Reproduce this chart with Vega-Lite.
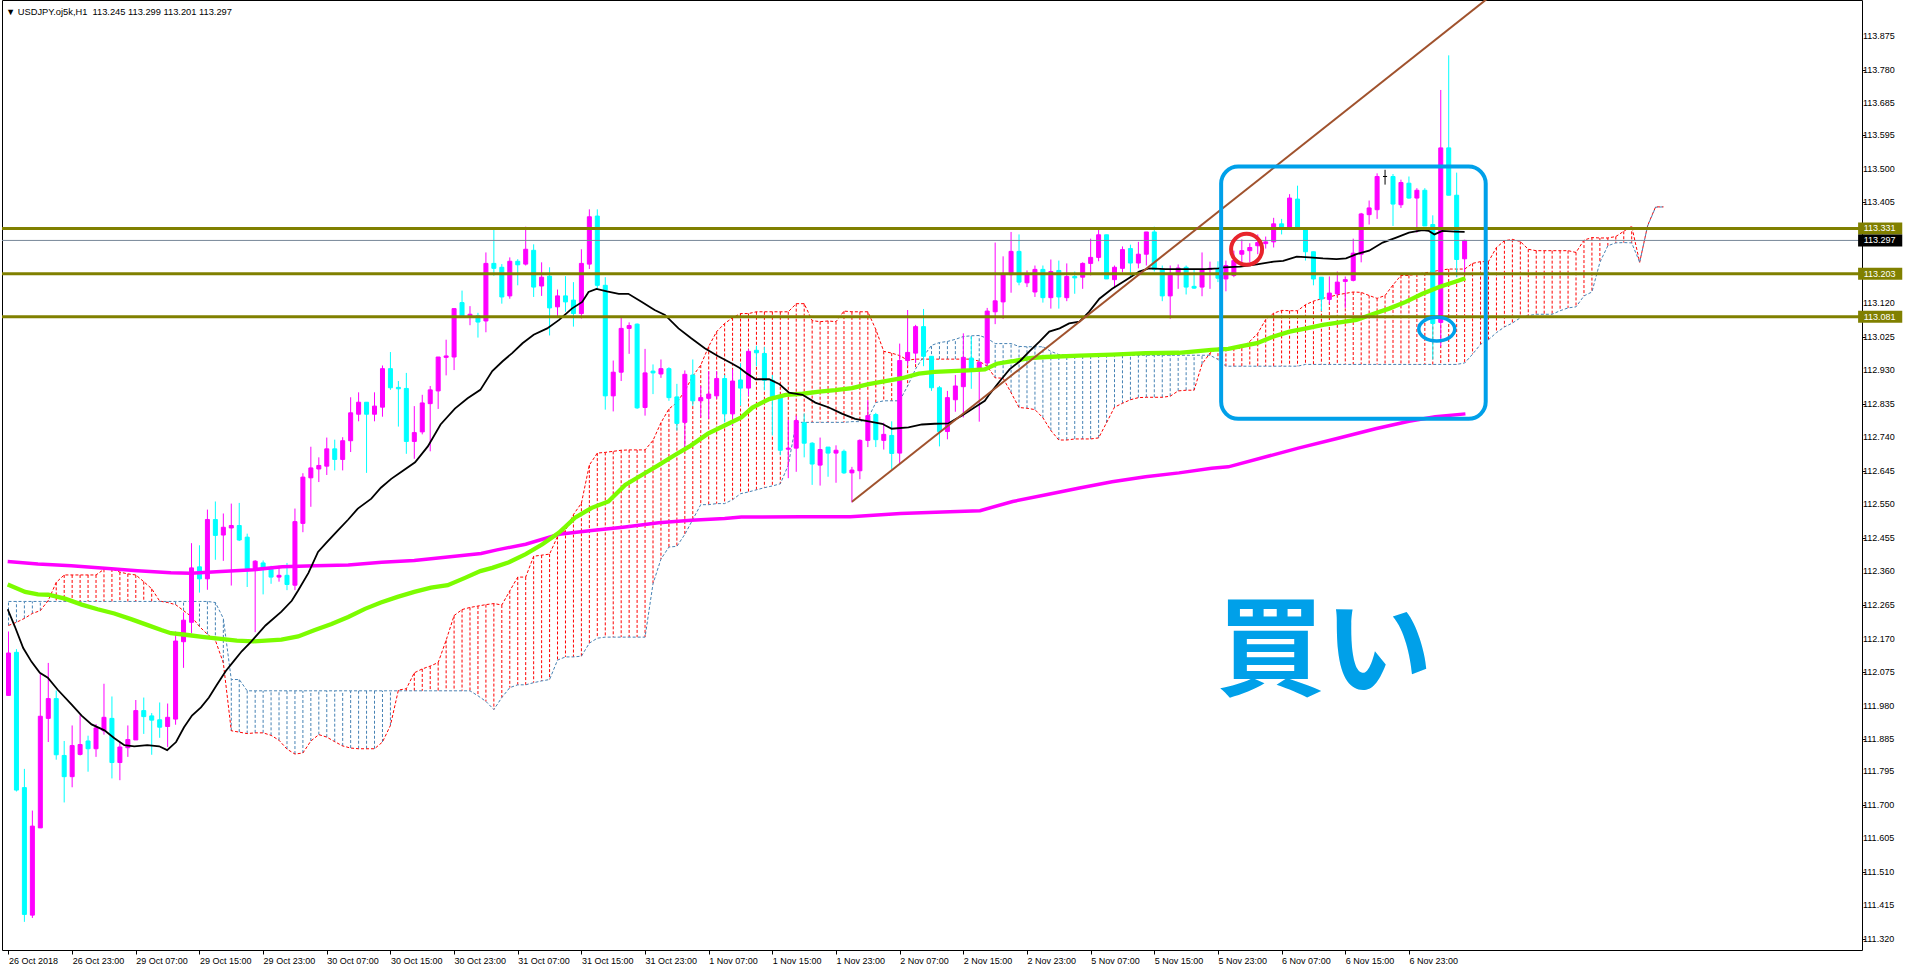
{
"$schema": "https://vega.github.io/schema/vega-lite/v6.json",
"width": 1860, "height": 950,
"autosize": {"type": "none"},
"padding": {"left": 2, "top": 0, "right": 43, "bottom": 21},
"background": "white",
"title": {"text": "▼ USDJPY.oj5k,H1\u00a0 113.245 113.299 113.201 113.297", "anchor": "start", "frame": "group", "offset": -11, "dy": 10, "baseline": "middle", "fontSize": 9.3, "fontWeight": "normal", "font": "Liberation Sans", "color": "black", "dx": 4},
"config": {"view": {"stroke": "black", "strokeWidth": 1}, "axis": {"grid": false, "domain": false, "tickColor": "black", "labelColor": "black", "labelFont": "Liberation Sans", "labelFontSize": 9, "labelFlush": false, "labelOverlap": false, "labelBound": false}},
"datasets": {
"c": [
{"i":0,"o":112.009,"h":112.190,"l":112.008,"c":112.129},
{"i":1,"o":112.131,"h":112.140,"l":111.737,"c":111.741},
{"i":2,"o":111.748,"h":111.801,"l":111.368,"c":111.389},
{"i":3,"o":111.387,"h":111.683,"l":111.379,"c":111.639},
{"i":4,"o":111.634,"h":112.070,"l":111.634,"c":111.950},
{"i":5,"o":111.944,"h":112.101,"l":111.877,"c":112.000},
{"i":6,"o":112.000,"h":112.023,"l":111.827,"c":111.841},
{"i":7,"o":111.839,"h":111.880,"l":111.706,"c":111.779},
{"i":8,"o":111.779,"h":111.924,"l":111.749,"c":111.867},
{"i":9,"o":111.842,"h":111.953,"l":111.839,"c":111.870},
{"i":10,"o":111.880,"h":111.895,"l":111.793,"c":111.858},
{"i":11,"o":111.858,"h":111.928,"l":111.835,"c":111.917},
{"i":12,"o":111.909,"h":112.042,"l":111.898,"c":111.947},
{"i":13,"o":111.944,"h":112.006,"l":111.774,"c":111.819},
{"i":14,"o":111.819,"h":111.877,"l":111.769,"c":111.863},
{"i":15,"o":111.861,"h":111.924,"l":111.835,"c":111.884},
{"i":16,"o":111.883,"h":111.996,"l":111.883,"c":111.966},
{"i":17,"o":111.966,"h":112.003,"l":111.900,"c":111.949},
{"i":18,"o":111.951,"h":111.959,"l":111.841,"c":111.939},
{"i":19,"o":111.940,"h":111.989,"l":111.889,"c":111.919},
{"i":20,"o":111.921,"h":111.986,"l":111.863,"c":111.947},
{"i":21,"o":111.942,"h":112.190,"l":111.926,"c":112.163},
{"i":22,"o":112.161,"h":112.244,"l":112.087,"c":112.222},
{"i":23,"o":112.216,"h":112.440,"l":112.185,"c":112.370},
{"i":24,"o":112.373,"h":112.434,"l":112.300,"c":112.339},
{"i":25,"o":112.339,"h":112.535,"l":112.308,"c":112.507},
{"i":26,"o":112.507,"h":112.558,"l":112.393,"c":112.462},
{"i":27,"o":112.463,"h":112.524,"l":112.390,"c":112.485},
{"i":28,"o":112.483,"h":112.552,"l":112.320,"c":112.490},
{"i":29,"o":112.490,"h":112.554,"l":112.446,"c":112.449},
{"i":30,"o":112.457,"h":112.467,"l":112.316,"c":112.362},
{"i":31,"o":112.367,"h":112.392,"l":112.188,"c":112.389},
{"i":32,"o":112.384,"h":112.391,"l":112.295,"c":112.366},
{"i":33,"o":112.366,"h":112.376,"l":112.325,"c":112.344},
{"i":34,"o":112.344,"h":112.376,"l":112.331,"c":112.349},
{"i":35,"o":112.349,"h":112.384,"l":112.307,"c":112.323},
{"i":36,"o":112.321,"h":112.538,"l":112.307,"c":112.501},
{"i":37,"o":112.496,"h":112.638,"l":112.471,"c":112.627},
{"i":38,"o":112.625,"h":112.713,"l":112.543,"c":112.653},
{"i":39,"o":112.650,"h":112.683,"l":112.613,"c":112.660},
{"i":40,"o":112.658,"h":112.739,"l":112.633,"c":112.707},
{"i":41,"o":112.707,"h":112.733,"l":112.646,"c":112.677},
{"i":42,"o":112.677,"h":112.740,"l":112.646,"c":112.730},
{"i":43,"o":112.730,"h":112.853,"l":112.698,"c":112.809},
{"i":44,"o":112.805,"h":112.867,"l":112.785,"c":112.839},
{"i":45,"o":112.839,"h":112.839,"l":112.639,"c":112.805},
{"i":46,"o":112.805,"h":112.867,"l":112.785,"c":112.828},
{"i":47,"o":112.825,"h":112.943,"l":112.798,"c":112.934},
{"i":48,"o":112.934,"h":112.981,"l":112.874,"c":112.880},
{"i":49,"o":112.881,"h":112.899,"l":112.770,"c":112.877},
{"i":50,"o":112.878,"h":112.922,"l":112.693,"c":112.728},
{"i":51,"o":112.728,"h":112.828,"l":112.679,"c":112.753},
{"i":52,"o":112.755,"h":112.860,"l":112.748,"c":112.837},
{"i":53,"o":112.835,"h":112.885,"l":112.700,"c":112.874},
{"i":54,"o":112.871,"h":112.967,"l":112.820,"c":112.967},
{"i":55,"o":112.966,"h":113.016,"l":112.915,"c":112.970},
{"i":56,"o":112.967,"h":113.104,"l":112.930,"c":113.104},
{"i":57,"o":113.121,"h":113.155,"l":113.081,"c":113.081},
{"i":58,"o":113.079,"h":113.111,"l":113.057,"c":113.088},
{"i":59,"o":113.084,"h":113.092,"l":113.022,"c":113.066},
{"i":60,"o":113.069,"h":113.263,"l":113.037,"c":113.232},
{"i":61,"o":113.232,"h":113.330,"l":113.197,"c":113.218},
{"i":62,"o":113.221,"h":113.230,"l":113.118,"c":113.137},
{"i":63,"o":113.140,"h":113.249,"l":113.132,"c":113.238},
{"i":64,"o":113.238,"h":113.244,"l":113.170,"c":113.228},
{"i":65,"o":113.230,"h":113.336,"l":113.226,"c":113.272},
{"i":66,"o":113.269,"h":113.286,"l":113.137,"c":113.165},
{"i":67,"o":113.168,"h":113.235,"l":113.140,"c":113.193},
{"i":68,"o":113.196,"h":113.221,"l":113.028,"c":113.106},
{"i":69,"o":113.109,"h":113.158,"l":113.081,"c":113.140},
{"i":70,"o":113.140,"h":113.196,"l":113.095,"c":113.123},
{"i":71,"o":113.128,"h":113.179,"l":113.053,"c":113.090},
{"i":72,"o":113.090,"h":113.272,"l":113.076,"c":113.232},
{"i":73,"o":113.230,"h":113.385,"l":113.216,"c":113.364},
{"i":74,"o":113.366,"h":113.385,"l":113.159,"c":113.170},
{"i":75,"o":113.170,"h":113.193,"l":112.818,"c":112.857},
{"i":76,"o":112.857,"h":112.957,"l":112.813,"c":112.924},
{"i":77,"o":112.924,"h":113.078,"l":112.899,"c":113.048},
{"i":78,"o":113.048,"h":113.065,"l":112.976,"c":113.056},
{"i":79,"o":113.060,"h":113.062,"l":112.820,"c":112.823},
{"i":80,"o":112.824,"h":112.990,"l":112.801,"c":112.922},
{"i":81,"o":112.927,"h":112.946,"l":112.862,"c":112.922},
{"i":82,"o":112.919,"h":112.960,"l":112.908,"c":112.934},
{"i":83,"o":112.934,"h":112.938,"l":112.843,"c":112.852},
{"i":84,"o":112.854,"h":112.891,"l":112.759,"c":112.779},
{"i":85,"o":112.782,"h":112.929,"l":112.712,"c":112.918},
{"i":86,"o":112.916,"h":112.960,"l":112.829,"c":112.843},
{"i":87,"o":112.843,"h":112.885,"l":112.796,"c":112.852},
{"i":88,"o":112.850,"h":112.927,"l":112.792,"c":112.862},
{"i":89,"o":112.857,"h":112.927,"l":112.848,"c":112.906},
{"i":90,"o":112.906,"h":112.916,"l":112.782,"c":112.806},
{"i":91,"o":112.806,"h":112.932,"l":112.773,"c":112.899},
{"i":92,"o":112.902,"h":112.949,"l":112.829,"c":112.879},
{"i":93,"o":112.879,"h":112.989,"l":112.857,"c":112.983},
{"i":94,"o":112.986,"h":112.999,"l":112.941,"c":112.979},
{"i":95,"o":112.977,"h":112.995,"l":112.873,"c":112.901},
{"i":96,"o":112.901,"h":112.916,"l":112.745,"c":112.850},
{"i":97,"o":112.852,"h":112.860,"l":112.689,"c":112.703},
{"i":98,"o":112.706,"h":112.789,"l":112.624,"c":112.709},
{"i":99,"o":112.709,"h":112.801,"l":112.642,"c":112.787},
{"i":100,"o":112.781,"h":112.807,"l":112.683,"c":112.723},
{"i":101,"o":112.723,"h":112.726,"l":112.605,"c":112.664},
{"i":102,"o":112.661,"h":112.739,"l":112.603,"c":112.705},
{"i":103,"o":112.712,"h":112.712,"l":112.628,"c":112.695},
{"i":104,"o":112.695,"h":112.717,"l":112.611,"c":112.703},
{"i":105,"o":112.700,"h":112.705,"l":112.636,"c":112.639},
{"i":106,"o":112.639,"h":112.656,"l":112.555,"c":112.647},
{"i":107,"o":112.645,"h":112.734,"l":112.621,"c":112.731},
{"i":108,"o":112.731,"h":112.845,"l":112.712,"c":112.801},
{"i":109,"o":112.804,"h":112.809,"l":112.712,"c":112.733},
{"i":110,"o":112.731,"h":112.781,"l":112.705,"c":112.748},
{"i":111,"o":112.745,"h":112.785,"l":112.650,"c":112.694},
{"i":112,"o":112.695,"h":113.005,"l":112.667,"c":112.957},
{"i":113,"o":112.957,"h":113.100,"l":112.941,"c":112.980},
{"i":114,"o":112.978,"h":113.058,"l":112.950,"c":113.053},
{"i":115,"o":113.053,"h":113.103,"l":112.941,"c":112.969},
{"i":116,"o":112.969,"h":112.969,"l":112.871,"c":112.880},
{"i":117,"o":112.880,"h":112.885,"l":112.714,"c":112.756},
{"i":118,"o":112.756,"h":112.871,"l":112.734,"c":112.852},
{"i":119,"o":112.846,"h":112.916,"l":112.812,"c":112.885},
{"i":120,"o":112.883,"h":113.034,"l":112.796,"c":112.966},
{"i":121,"o":112.964,"h":113.025,"l":112.877,"c":112.935},
{"i":122,"o":112.930,"h":112.955,"l":112.784,"c":112.952},
{"i":123,"o":112.950,"h":113.106,"l":112.936,"c":113.097},
{"i":124,"o":113.095,"h":113.291,"l":113.060,"c":113.126},
{"i":125,"o":113.123,"h":113.252,"l":113.075,"c":113.200},
{"i":126,"o":113.200,"h":113.321,"l":113.149,"c":113.266},
{"i":127,"o":113.266,"h":113.314,"l":113.170,"c":113.179},
{"i":128,"o":113.177,"h":113.212,"l":113.165,"c":113.200},
{"i":129,"o":113.151,"h":113.226,"l":113.137,"c":113.215},
{"i":130,"o":113.215,"h":113.226,"l":113.121,"c":113.135},
{"i":131,"o":113.135,"h":113.243,"l":113.104,"c":113.209},
{"i":132,"o":113.212,"h":113.240,"l":113.104,"c":113.137},
{"i":133,"o":113.135,"h":113.232,"l":113.125,"c":113.195},
{"i":134,"o":113.195,"h":113.209,"l":113.146,"c":113.191},
{"i":135,"o":113.193,"h":113.235,"l":113.160,"c":113.232},
{"i":136,"o":113.232,"h":113.302,"l":113.198,"c":113.249},
{"i":137,"o":113.249,"h":113.335,"l":113.238,"c":113.313},
{"i":138,"o":113.313,"h":113.313,"l":113.188,"c":113.188},
{"i":139,"o":113.186,"h":113.226,"l":113.162,"c":113.221},
{"i":140,"o":113.218,"h":113.280,"l":113.207,"c":113.271},
{"i":141,"o":113.274,"h":113.285,"l":113.195,"c":113.233},
{"i":142,"o":113.233,"h":113.293,"l":113.218,"c":113.258},
{"i":143,"o":113.258,"h":113.321,"l":113.226,"c":113.321},
{"i":144,"o":113.321,"h":113.336,"l":113.209,"c":113.215},
{"i":145,"o":113.215,"h":113.226,"l":113.125,"c":113.140},
{"i":146,"o":113.140,"h":113.226,"l":113.075,"c":113.204},
{"i":147,"o":113.200,"h":113.229,"l":113.160,"c":113.219},
{"i":148,"o":113.221,"h":113.226,"l":113.144,"c":113.165},
{"i":149,"o":113.167,"h":113.215,"l":113.160,"c":113.162},
{"i":150,"o":113.165,"h":113.263,"l":113.139,"c":113.215},
{"i":151,"o":113.215,"h":113.237,"l":113.160,"c":113.218},
{"i":152,"o":113.218,"h":113.238,"l":113.179,"c":113.190},
{"i":153,"o":113.188,"h":113.240,"l":113.153,"c":113.226},
{"i":154,"o":113.198,"h":113.268,"l":113.193,"c":113.240},
{"i":155,"o":113.258,"h":113.300,"l":113.235,"c":113.268},
{"i":156,"o":113.268,"h":113.289,"l":113.235,"c":113.277},
{"i":157,"o":113.282,"h":113.314,"l":113.258,"c":113.291},
{"i":158,"o":113.288,"h":113.308,"l":113.274,"c":113.293},
{"i":159,"o":113.293,"h":113.361,"l":113.277,"c":113.344},
{"i":160,"o":113.344,"h":113.358,"l":113.314,"c":113.331},
{"i":161,"o":113.330,"h":113.428,"l":113.328,"c":113.417},
{"i":162,"o":113.414,"h":113.452,"l":113.328,"c":113.331},
{"i":163,"o":113.331,"h":113.331,"l":113.240,"c":113.265},
{"i":164,"o":113.265,"h":113.265,"l":113.170,"c":113.188},
{"i":165,"o":113.193,"h":113.193,"l":113.097,"c":113.131},
{"i":166,"o":113.130,"h":113.195,"l":113.118,"c":113.148},
{"i":167,"o":113.146,"h":113.209,"l":113.140,"c":113.179},
{"i":168,"o":113.181,"h":113.195,"l":113.106,"c":113.186},
{"i":169,"o":113.184,"h":113.302,"l":113.181,"c":113.261},
{"i":170,"o":113.258,"h":113.375,"l":113.235,"c":113.372},
{"i":171,"o":113.370,"h":113.410,"l":113.342,"c":113.389},
{"i":172,"o":113.384,"h":113.487,"l":113.358,"c":113.478},
{"i":173,"o":113.478,"h":113.497,"l":113.455,"c":113.478},
{"i":174,"o":113.478,"h":113.485,"l":113.338,"c":113.400},
{"i":175,"o":113.398,"h":113.469,"l":113.389,"c":113.461},
{"i":176,"o":113.459,"h":113.478,"l":113.415,"c":113.417},
{"i":177,"o":113.417,"h":113.445,"l":113.319,"c":113.439},
{"i":178,"o":113.439,"h":113.445,"l":113.338,"c":113.338},
{"i":179,"o":113.342,"h":113.368,"l":112.960,"c":113.062},
{"i":180,"o":113.065,"h":113.723,"l":112.997,"c":113.559},
{"i":181,"o":113.559,"h":113.821,"l":113.425,"c":113.425},
{"i":182,"o":113.425,"h":113.489,"l":113.193,"c":113.243},
{"i":183,"o":113.245,"h":113.299,"l":113.201,"c":113.297}
],
"cl": [
{"i":0,"a":112.207,"b":112.275},{"i":1,"a":112.216,"b":112.275},{"i":2,"a":112.227,"b":112.275},{"i":3,"a":112.241,"b":112.275},{"i":4,"a":112.249,"b":112.275},{"i":5,"a":112.278,"b":112.275},{"i":6,"a":112.329,"b":112.275},{"i":7,"a":112.350,"b":112.275},{"i":8,"a":112.350,"b":112.275},{"i":9,"a":112.350,"b":112.275},
{"i":10,"a":112.350,"b":112.275},{"i":11,"a":112.350,"b":112.275},{"i":12,"a":112.366,"b":112.275},{"i":13,"a":112.367,"b":112.275},{"i":14,"a":112.358,"b":112.275},{"i":15,"a":112.353,"b":112.275},{"i":16,"a":112.350,"b":112.275},{"i":17,"a":112.331,"b":112.275},{"i":18,"a":112.311,"b":112.275},{"i":19,"a":112.276,"b":112.275},
{"i":20,"a":112.272,"b":112.275},{"i":21,"a":112.266,"b":112.275},{"i":22,"a":112.249,"b":112.275},{"i":23,"a":112.232,"b":112.275},{"i":24,"a":112.204,"b":112.275},{"i":25,"a":112.182,"b":112.275},{"i":26,"a":112.165,"b":112.272},{"i":27,"a":112.101,"b":112.227},{"i":28,"a":111.909,"b":112.054},{"i":29,"a":111.905,"b":112.054},
{"i":30,"a":111.901,"b":112.022},{"i":31,"a":111.903,"b":112.022},{"i":32,"a":111.903,"b":112.022},{"i":33,"a":111.896,"b":112.022},{"i":34,"a":111.882,"b":112.022},{"i":35,"a":111.857,"b":112.022},{"i":36,"a":111.843,"b":112.022},{"i":37,"a":111.846,"b":112.022},{"i":38,"a":111.880,"b":112.022},{"i":39,"a":111.898,"b":112.022},
{"i":40,"a":111.891,"b":112.022},{"i":41,"a":111.878,"b":112.022},{"i":42,"a":111.866,"b":112.022},{"i":43,"a":111.860,"b":112.022},{"i":44,"a":111.858,"b":112.022},{"i":45,"a":111.858,"b":112.022},{"i":46,"a":111.858,"b":112.022},{"i":47,"a":111.877,"b":112.022},{"i":48,"a":111.924,"b":112.022},{"i":49,"a":112.024,"b":112.022},
{"i":50,"a":112.028,"b":112.022},{"i":51,"a":112.073,"b":112.022},{"i":52,"a":112.084,"b":112.022},{"i":53,"a":112.092,"b":112.022},{"i":54,"a":112.102,"b":112.022},{"i":55,"a":112.165,"b":112.022},{"i":56,"a":112.235,"b":112.022},{"i":57,"a":112.252,"b":112.022},{"i":58,"a":112.258,"b":112.022},{"i":59,"a":112.262,"b":112.008},
{"i":60,"a":112.266,"b":111.992},{"i":61,"a":112.269,"b":111.969},{"i":62,"a":112.265,"b":112.003},{"i":63,"a":112.305,"b":112.031},{"i":64,"a":112.344,"b":112.039},{"i":65,"a":112.344,"b":112.039},{"i":66,"a":112.403,"b":112.045},{"i":67,"a":112.406,"b":112.050},{"i":68,"a":112.409,"b":112.054},{"i":69,"a":112.459,"b":112.109},
{"i":70,"a":112.476,"b":112.118},{"i":71,"a":112.521,"b":112.118},{"i":72,"a":112.553,"b":112.120},{"i":73,"a":112.661,"b":112.157},{"i":74,"a":112.695,"b":112.171},{"i":75,"a":112.697,"b":112.174},{"i":76,"a":112.700,"b":112.174},{"i":77,"a":112.703,"b":112.174},{"i":78,"a":112.704,"b":112.174},{"i":79,"a":112.704,"b":112.174},
{"i":80,"a":112.704,"b":112.174},{"i":81,"a":112.731,"b":112.325},{"i":82,"a":112.781,"b":112.395},{"i":83,"a":112.820,"b":112.429},{"i":84,"a":112.838,"b":112.431},{"i":85,"a":112.871,"b":112.465},{"i":86,"a":112.913,"b":112.507},{"i":87,"a":112.944,"b":112.549},{"i":88,"a":112.997,"b":112.549},{"i":89,"a":113.039,"b":112.552},
{"i":90,"a":113.062,"b":112.552},{"i":91,"a":113.078,"b":112.563},{"i":92,"a":113.090,"b":112.580},{"i":93,"a":113.090,"b":112.585},{"i":94,"a":113.095,"b":112.591},{"i":95,"a":113.095,"b":112.597},{"i":96,"a":113.095,"b":112.602},{"i":97,"a":113.095,"b":112.608},{"i":98,"a":113.095,"b":112.661},{"i":99,"a":113.118,"b":112.782},
{"i":100,"a":113.118,"b":112.782},{"i":101,"a":113.070,"b":112.782},{"i":102,"a":113.067,"b":112.782},{"i":103,"a":113.069,"b":112.782},{"i":104,"a":113.067,"b":112.782},{"i":105,"a":113.097,"b":112.782},{"i":106,"a":113.095,"b":112.784},{"i":107,"a":113.095,"b":112.784},{"i":108,"a":113.095,"b":112.792},{"i":109,"a":113.045,"b":112.838},
{"i":110,"a":112.983,"b":112.843},{"i":111,"a":112.978,"b":112.843},{"i":112,"a":112.971,"b":112.843},{"i":113,"a":112.958,"b":112.885},{"i":114,"a":112.961,"b":112.933},{"i":115,"a":112.961,"b":112.969},{"i":116,"a":112.961,"b":113.000},{"i":117,"a":112.961,"b":113.008},{"i":118,"a":112.961,"b":113.011},{"i":119,"a":112.961,"b":113.017},
{"i":120,"a":112.961,"b":113.025},{"i":121,"a":112.961,"b":113.027},{"i":122,"a":112.955,"b":113.028},{"i":123,"a":112.941,"b":113.020},{"i":124,"a":112.908,"b":113.005},{"i":125,"a":112.907,"b":113.005},{"i":126,"a":112.866,"b":113.005},{"i":127,"a":112.824,"b":112.997},{"i":128,"a":112.822,"b":112.996},{"i":129,"a":112.818,"b":112.996},
{"i":130,"a":112.795,"b":112.996},{"i":131,"a":112.759,"b":112.983},{"i":132,"a":112.732,"b":112.974},{"i":133,"a":112.732,"b":112.972},{"i":134,"a":112.735,"b":112.972},{"i":135,"a":112.735,"b":112.972},{"i":136,"a":112.735,"b":112.972},{"i":137,"a":112.738,"b":112.972},{"i":138,"a":112.781,"b":112.972},{"i":139,"a":112.825,"b":112.972},
{"i":140,"a":112.836,"b":112.972},{"i":141,"a":112.846,"b":112.972},{"i":142,"a":112.852,"b":112.972},{"i":143,"a":112.853,"b":112.972},{"i":144,"a":112.853,"b":112.972},{"i":145,"a":112.853,"b":112.972},{"i":146,"a":112.856,"b":112.972},{"i":147,"a":112.871,"b":112.972},{"i":148,"a":112.873,"b":112.972},{"i":149,"a":112.873,"b":112.972},
{"i":150,"a":112.947,"b":112.972},{"i":151,"a":112.978,"b":112.972},{"i":152,"a":112.992,"b":112.960},{"i":153,"a":112.991,"b":112.941},{"i":154,"a":112.992,"b":112.941},{"i":155,"a":112.992,"b":112.941},{"i":156,"a":113.011,"b":112.941},{"i":157,"a":113.034,"b":112.941},{"i":158,"a":113.073,"b":112.941},{"i":159,"a":113.091,"b":112.941},
{"i":160,"a":113.099,"b":112.941},{"i":161,"a":113.098,"b":112.941},{"i":162,"a":113.098,"b":112.941},{"i":163,"a":113.115,"b":112.946},{"i":164,"a":113.125,"b":112.946},{"i":165,"a":113.132,"b":112.946},{"i":166,"a":113.137,"b":112.946},{"i":167,"a":113.143,"b":112.946},{"i":168,"a":113.147,"b":112.946},{"i":169,"a":113.151,"b":112.946},
{"i":170,"a":113.150,"b":112.946},{"i":171,"a":113.141,"b":112.946},{"i":172,"a":113.133,"b":112.946},{"i":173,"a":113.141,"b":112.946},{"i":174,"a":113.171,"b":112.946},{"i":175,"a":113.198,"b":112.946},{"i":176,"a":113.198,"b":112.946},{"i":177,"a":113.202,"b":112.946},{"i":178,"a":113.205,"b":112.946},{"i":179,"a":113.209,"b":112.946},
{"i":180,"a":113.213,"b":112.946},{"i":181,"a":113.216,"b":112.946},{"i":182,"a":113.216,"b":112.946},{"i":183,"a":113.216,"b":112.950},{"i":184,"a":113.232,"b":112.975},{"i":185,"a":113.237,"b":113.003},{"i":186,"a":113.237,"b":113.016},{"i":187,"a":113.277,"b":113.036},{"i":188,"a":113.296,"b":113.052},{"i":189,"a":113.300,"b":113.063},
{"i":190,"a":113.294,"b":113.078},{"i":191,"a":113.272,"b":113.084},{"i":192,"a":113.268,"b":113.088},{"i":193,"a":113.268,"b":113.088},{"i":194,"a":113.268,"b":113.088},{"i":195,"a":113.268,"b":113.098},{"i":196,"a":113.268,"b":113.106},{"i":197,"a":113.263,"b":113.109},{"i":198,"a":113.298,"b":113.140},{"i":199,"a":113.305,"b":113.151},
{"i":200,"a":113.304,"b":113.235},{"i":201,"a":113.304,"b":113.282},{"i":202,"a":113.308,"b":113.290},{"i":203,"a":113.323,"b":113.291},{"i":204,"a":113.337,"b":113.290},{"i":205,"a":113.235,"b":113.235},{"i":206,"a":113.339,"b":113.338},{"i":207,"a":113.392,"b":113.391},{"i":208,"a":113.392,"b":113.392}
],
"k": [
{"i":-0.1,"v":112.253},{"i":0.8,"v":112.204},{"i":1.85,"v":112.143},{"i":2.9,"v":112.104},{"i":3.94,"v":112.073},{"i":4.94,"v":112.059},{"i":6.19,"v":112.025},{"i":7.94,"v":111.983},{"i":9.19,"v":111.952},{"i":10.44,"v":111.927},{"i":12.06,"v":111.910},{"i":13.31,"v":111.888},{"i":14.56,"v":111.868},{"i":15.81,"v":111.865},{"i":17.44,"v":111.868},{"i":18.94,"v":111.865},{"i":19.94,"v":111.854},{"i":21.06,"v":111.877},{"i":22.06,"v":111.919},{"i":23.06,"v":111.952},{"i":24.19,"v":111.975},{"i":25.19,"v":112.003},{"i":26.19,"v":112.039},{"i":27.31,"v":112.078},{"i":28.31,"v":112.106},{"i":29.31,"v":112.134},{"i":30.44,"v":112.160},{"i":32.3,"v":112.207},{"i":34.3,"v":112.246},{"i":35.6,"v":112.277},{"i":36.4,"v":112.306},{"i":37.7,"v":112.356},{"i":38.9,"v":112.415},{"i":39.9,"v":112.440},{"i":41.4,"v":112.476},{"i":42.7,"v":112.507},{"i":43.9,"v":112.538},{"i":45.6,"v":112.566},{"i":46.8,"v":112.597},{"i":48.1,"v":112.622},{"i":49.3,"v":112.641},{"i":51.1,"v":112.669},{"i":52.7,"v":112.714},{"i":54.3,"v":112.776},{"i":56.1,"v":112.821},{"i":57.7,"v":112.850},{"i":59.3,"v":112.874},{"i":60.8,"v":112.927},{"i":62.1,"v":112.955},{"i":63.3,"v":112.978},{"i":64.6,"v":113.006},{"i":66.0,"v":113.030},{"i":67.7,"v":113.048},{"i":69.2,"v":113.072},{"i":70.8,"v":113.104},{"i":72.1,"v":113.123},{"i":72.9,"v":113.151},{"i":73.9,"v":113.160},{"i":75.2,"v":113.153},{"i":76.7,"v":113.146},{"i":77.9,"v":113.146},{"i":79.6,"v":113.123},{"i":81.2,"v":113.100},{"i":82.5,"v":113.086},{"i":84.2,"v":113.048},{"i":85.8,"v":113.020},{"i":87.5,"v":112.992},{"i":89.2,"v":112.969},{"i":90.8,"v":112.950},{"i":91.9,"v":112.936},{"i":92.7,"v":112.922},{"i":93.9,"v":112.904},{"i":95.6,"v":112.904},{"i":96.9,"v":112.890},{"i":98.1,"v":112.866},{"i":99.8,"v":112.860},{"i":101.4,"v":112.838},{"i":103.1,"v":112.824},{"i":104.8,"v":112.806},{"i":106.4,"v":112.792},{"i":108.1,"v":112.785},{"i":109.8,"v":112.778},{"i":111.0,"v":112.764},{"i":113.1,"v":112.768},{"i":114.8,"v":112.776},{"i":116.4,"v":112.778},{"i":118.1,"v":112.779},{"i":119.8,"v":112.801},{"i":121.4,"v":112.824},{"i":122.7,"v":112.843},{"i":123.3,"v":112.862},{"i":124.6,"v":112.899},{"i":125.8,"v":112.932},{"i":127.1,"v":112.955},{"i":128.3,"v":112.983},{"i":129.6,"v":113.011},{"i":130.8,"v":113.039},{"i":132.1,"v":113.048},{"i":133.3,"v":113.062},{"i":134.6,"v":113.067},{"i":135.8,"v":113.095},{"i":137.1,"v":113.132},{"i":138.7,"v":113.160},{"i":140.4,"v":113.184},{"i":142.1,"v":113.209},{"i":143.3,"v":113.218},{"i":145.4,"v":113.216},{"i":147.9,"v":113.216},{"i":150.4,"v":113.216},{"i":152.1,"v":113.218},{"i":152.7,"v":113.221},{"i":154.8,"v":113.223},{"i":156.9,"v":113.229},{"i":159.0,"v":113.237},{"i":160.2,"v":113.239},{"i":161.9,"v":113.251},{"i":163.5,"v":113.249},{"i":165.2,"v":113.246},{"i":166.9,"v":113.244},{"i":168.1,"v":113.246},{"i":169.4,"v":113.258},{"i":171.0,"v":113.268},{"i":172.7,"v":113.291},{"i":174.4,"v":113.305},{"i":176.0,"v":113.319},{"i":177.7,"v":113.326},{"i":178.5,"v":113.324},{"i":179.2,"v":113.314},{"i":180.2,"v":113.324},{"i":181.8,"v":113.322},{"i":183.0,"v":113.321}
],
"g": [
{"i":-0.1,"v":112.323},{"i":2.1,"v":112.302},{"i":3.7,"v":112.295},{"i":5.0,"v":112.294},{"i":7.1,"v":112.283},{"i":9.2,"v":112.266},{"i":11.2,"v":112.253},{"i":13.3,"v":112.241},{"i":15.4,"v":112.225},{"i":17.5,"v":112.208},{"i":19.2,"v":112.194},{"i":20.4,"v":112.185},{"i":22.5,"v":112.180},{"i":24.6,"v":112.174},{"i":26.7,"v":112.169},{"i":28.7,"v":112.164},{"i":30.8,"v":112.162},{"i":34.3,"v":112.167},{"i":36.4,"v":112.176},{"i":38.5,"v":112.194},{"i":40.6,"v":112.211},{"i":42.7,"v":112.231},{"i":44.8,"v":112.254},{"i":46.8,"v":112.272},{"i":48.9,"v":112.288},{"i":51.0,"v":112.302},{"i":53.1,"v":112.314},{"i":55.2,"v":112.321},{"i":57.3,"v":112.341},{"i":59.3,"v":112.361},{"i":60.8,"v":112.370},{"i":62.9,"v":112.386},{"i":65.0,"v":112.409},{"i":67.1,"v":112.437},{"i":69.2,"v":112.470},{"i":71.2,"v":112.512},{"i":73.3,"v":112.540},{"i":75.4,"v":112.558},{"i":77.5,"v":112.605},{"i":79.6,"v":112.633},{"i":81.7,"v":112.661},{"i":83.7,"v":112.689},{"i":85.8,"v":112.717},{"i":87.9,"v":112.750},{"i":90.0,"v":112.773},{"i":92.1,"v":112.796},{"i":93.5,"v":112.824},{"i":95.6,"v":112.848},{"i":97.7,"v":112.860},{"i":99.8,"v":112.863},{"i":101.9,"v":112.869},{"i":103.9,"v":112.873},{"i":106.0,"v":112.879},{"i":108.1,"v":112.890},{"i":110.2,"v":112.899},{"i":112.3,"v":112.907},{"i":114.4,"v":112.920},{"i":116.4,"v":112.925},{"i":118.5,"v":112.927},{"i":120.6,"v":112.929},{"i":122.7,"v":112.932},{"i":124.2,"v":112.948},{"i":126.2,"v":112.955},{"i":128.3,"v":112.964},{"i":130.4,"v":112.967},{"i":134.6,"v":112.971},{"i":138.7,"v":112.974},{"i":142.9,"v":112.978},{"i":147.1,"v":112.979},{"i":151.2,"v":112.987},{"i":153.3,"v":112.990},{"i":154.8,"v":112.997},{"i":156.9,"v":113.006},{"i":159.0,"v":113.025},{"i":161.0,"v":113.039},{"i":163.1,"v":113.048},{"i":165.2,"v":113.058},{"i":167.3,"v":113.065},{"i":169.4,"v":113.072},{"i":171.4,"v":113.088},{"i":173.5,"v":113.104},{"i":175.6,"v":113.123},{"i":177.7,"v":113.146},{"i":179.8,"v":113.165},{"i":181.9,"v":113.181},{"i":183.1,"v":113.190}
],
"m": [
{"i":-0.1,"v":112.388},{"i":3.7,"v":112.381},{"i":7.9,"v":112.376},{"i":12.1,"v":112.369},{"i":16.2,"v":112.362},{"i":20.4,"v":112.356},{"i":22.9,"v":112.355},{"i":26.7,"v":112.360},{"i":30.8,"v":112.365},{"i":34.4,"v":112.373},{"i":38.5,"v":112.376},{"i":42.7,"v":112.378},{"i":46.9,"v":112.386},{"i":51.0,"v":112.391},{"i":55.2,"v":112.401},{"i":59.4,"v":112.411},{"i":61.4,"v":112.421},{"i":65.0,"v":112.437},{"i":69.2,"v":112.465},{"i":73.3,"v":112.476},{"i":77.5,"v":112.486},{"i":81.7,"v":112.498},{"i":85.8,"v":112.505},{"i":90.0,"v":112.510},{"i":92.1,"v":112.514},{"i":99.6,"v":112.515},{"i":105.8,"v":112.515},{"i":112.1,"v":112.524},{"i":118.3,"v":112.529},{"i":122.1,"v":112.532},{"i":126.2,"v":112.558},{"i":130.4,"v":112.577},{"i":134.6,"v":112.596},{"i":138.7,"v":112.614},{"i":142.9,"v":112.628},{"i":147.1,"v":112.639},{"i":151.2,"v":112.652},{"i":153.3,"v":112.656},{"i":162.1,"v":112.709},{"i":167.1,"v":112.737},{"i":171.8,"v":112.764},{"i":176.0,"v":112.785},{"i":179.3,"v":112.798},{"i":183.1,"v":112.806}
],
"yt": [{"p":113.875},{"p":113.780},{"p":113.685},{"p":113.595},{"p":113.500},{"p":113.405},{"p":113.120},{"p":113.025},{"p":112.930},{"p":112.835},{"p":112.740},{"p":112.645},{"p":112.550},{"p":112.455},{"p":112.360},{"p":112.265},{"p":112.170},{"p":112.075},{"p":111.980},{"p":111.885},{"p":111.795},{"p":111.700},{"p":111.605},{"p":111.510},{"p":111.415},{"p":111.320}],
"lv": [{"p":113.331},{"p":113.203},{"p":113.081}],
"bid": [{"p":113.297}],
"pl": [{"p":113.331,"k":"o"},{"p":113.297,"k":"b"},{"p":113.203,"k":"o"},{"p":113.081,"k":"o"}],
"tl": [{"i":106,"v":112.557},{"i":187.06,"v":114.003}]
},
"layer": [
{"data": {"name": "cl"},
 "mark": {"type": "rule", "strokeDash": [3, 2], "strokeWidth": 1},
 "encoding": {
  "x": {"field": "i", "type": "quantitative", "title": null, "scale": {"domain": [-0.1875, 232.3125], "nice": false, "zero": false},
        "axis": {"orient": "bottom", "values": [0,8,16,24,32,40,48,56,64,72,80,88,96,104,112,120,128,136,144,152,160,168,176],
                 "labelExpr": "['26 Oct 2018','26 Oct 23:00','29 Oct 07:00','29 Oct 15:00','29 Oct 23:00','30 Oct 07:00','30 Oct 15:00','30 Oct 23:00','31 Oct 07:00','31 Oct 15:00','31 Oct 23:00','1 Nov 07:00','1 Nov 15:00','1 Nov 23:00','2 Nov 07:00','2 Nov 15:00','2 Nov 23:00','5 Nov 07:00','5 Nov 15:00','5 Nov 23:00','6 Nov 07:00','6 Nov 15:00','6 Nov 23:00'][round(datum.value/8)]",
                 "labelAlign": "left", "labelBaseline": "top", "tickSize": 4, "labelPadding": 2, "labelOffset": 0, "labelOverlap": false, "title": null}},
  "y": {"field": "a", "type": "quantitative", "title": null, "scale": {"domain": [111.30245, 113.9635], "nice": false, "zero": false},
        "axis": {"orient": "right", "values": [113.875,113.78,113.685,113.595,113.5,113.405,113.31,113.215,113.12,113.025,112.93,112.835,112.74,112.645,112.55,112.455,112.36,112.265,112.17,112.075,111.98,111.885,111.795,111.7,111.605,111.51,111.415,111.32],
                 "labels": false, "tickSize": 3, "title": null}},
  "y2": {"field": "b"},
  "color": {"condition": {"test": "datum.a >= datum.b", "value": "#FF0000"}, "value": "#4682B4"}
 }},
{"data": {"name": "cl"}, "mark": {"type": "line", "color": "#FF0000", "strokeWidth": 1, "strokeDash": [3, 2]},
 "encoding": {"x": {"field": "i", "type": "quantitative", "title": null}, "y": {"field": "a", "type": "quantitative", "title": null}}},
{"data": {"name": "cl"}, "mark": {"type": "line", "color": "#4682B4", "strokeWidth": 1, "strokeDash": [3, 2]},
 "encoding": {"x": {"field": "i", "type": "quantitative", "title": null}, "y": {"field": "b", "type": "quantitative", "title": null}}},
{"data": {"name": "c"}, "mark": {"type": "rule", "strokeWidth": 1},
 "encoding": {"x": {"field": "i", "type": "quantitative", "title": null}, "y": {"field": "l", "type": "quantitative", "title": null}, "y2": {"field": "h"},
  "color": {"condition": [{"test": "datum.c > datum.o", "value": "#FF00FF"}, {"test": "datum.c < datum.o", "value": "#00FFFF"}], "value": "#000000"}}},
{"data": {"name": "c"}, "mark": {"type": "bar", "size": 4, "strokeWidth": 1, "orient": "vertical"},
 "encoding": {"x": {"field": "i", "type": "quantitative", "title": null}, "y": {"field": "o", "type": "quantitative", "title": null}, "y2": {"field": "c"},
  "fill": {"condition": [{"test": "datum.c > datum.o", "value": "#FF00FF"}, {"test": "datum.c < datum.o", "value": "#00FFFF"}], "value": "#000000"},
  "stroke": {"condition": [{"test": "datum.c > datum.o", "value": "#FF00FF"}, {"test": "datum.c < datum.o", "value": "#00FFFF"}], "value": "#000000"}}},
{"data": {"name": "m"}, "mark": {"type": "line", "color": "#FF00FF", "strokeWidth": 3.5},
 "encoding": {"x": {"field": "i", "type": "quantitative", "title": null}, "y": {"field": "v", "type": "quantitative", "title": null}}},
{"data": {"name": "g"}, "mark": {"type": "line", "color": "#7CFC00", "strokeWidth": 4.3},
 "encoding": {"x": {"field": "i", "type": "quantitative", "title": null}, "y": {"field": "v", "type": "quantitative", "title": null}}},
{"data": {"name": "k"}, "mark": {"type": "line", "color": "#000000", "strokeWidth": 1.8},
 "encoding": {"x": {"field": "i", "type": "quantitative", "title": null}, "y": {"field": "v", "type": "quantitative", "title": null}}},
{"data": {"name": "bid"}, "mark": {"type": "rule", "color": "#778899", "strokeWidth": 1},
 "encoding": {"y": {"field": "p", "type": "quantitative", "title": null}}},
{"data": {"name": "lv"}, "mark": {"type": "rule", "color": "#808000", "strokeWidth": 3},
 "encoding": {"y": {"field": "p", "type": "quantitative", "title": null}}},
{"data": {"name": "tl"}, "mark": {"type": "line", "color": "#A0522D", "strokeWidth": 2, "clip": true},
 "encoding": {"x": {"field": "i", "type": "quantitative", "title": null}, "y": {"field": "v", "type": "quantitative", "title": null}}},
{"data": {"values": [{}]}, "mark": {"type": "rect", "filled": false, "fill": null, "stroke": "#00A0E9", "strokeWidth": 4, "cornerRadius": 17},
 "encoding": {"x": {"datum": 152.4, "type": "quantitative"}, "x2": {"datum": 185.65}, "y": {"datum": 113.506, "type": "quantitative"}, "y2": {"datum": 112.792}}},
{"data": {"values": [{}]}, "mark": {"type": "point", "shape": "circle", "filled": false, "stroke": "#E8242C", "strokeWidth": 4, "size": 961, "opacity": 1},
 "encoding": {"x": {"datum": 155.6, "type": "quantitative"}, "y": {"datum": 113.272, "type": "quantitative"}}},
{"data": {"values": [{}]}, "mark": {"type": "point", "shape": "M-1,0A1,0.66,0,1,1,1,0A1,0.66,0,1,1,-1,0Z", "filled": false, "stroke": "#00A0E9", "strokeWidth": 3.5, "size": 1296, "opacity": 1},
 "encoding": {"x": {"datum": 179.5, "type": "quantitative"}, "y": {"datum": 113.046, "type": "quantitative"}}},
{"data": {"values": [{}]}, "mark": {"type": "text", "text": "買い", "font": "Noto Sans CJK JP", "fontSize": 108, "fontWeight": "bold", "color": "#00A0E9", "align": "center", "baseline": "middle"},
 "encoding": {"x": {"datum": 165.4, "type": "quantitative"}, "y": {"datum": 112.124, "type": "quantitative"}}},
{"data": {"name": "yt"}, "mark": {"type": "text", "align": "left", "baseline": "middle", "color": "black", "fontSize": 9, "font": "Liberation Sans", "clip": false},
 "encoding": {"x": {"datum": 233.06, "type": "quantitative"}, "y": {"field": "p", "type": "quantitative", "title": null}, "text": {"field": "p", "type": "quantitative", "format": ".3f"}}},
{"data": {"name": "pl"}, "mark": {"type": "bar", "orient": "horizontal", "size": 12, "clip": false},
 "encoding": {"x": {"datum": 232.45, "type": "quantitative"}, "x2": {"datum": 238}, "y": {"field": "p", "type": "quantitative", "title": null},
  "color": {"condition": {"test": "datum.k == 'b'", "value": "#000000"}, "value": "#808000"}}},
{"data": {"name": "pl"}, "mark": {"type": "text", "align": "left", "baseline": "middle", "color": "white", "fontSize": 9, "font": "Liberation Sans", "clip": false},
 "encoding": {"x": {"datum": 233.15, "type": "quantitative"}, "y": {"field": "p", "type": "quantitative", "title": null}, "text": {"field": "p", "type": "quantitative", "format": ".3f"}}}
]
}
